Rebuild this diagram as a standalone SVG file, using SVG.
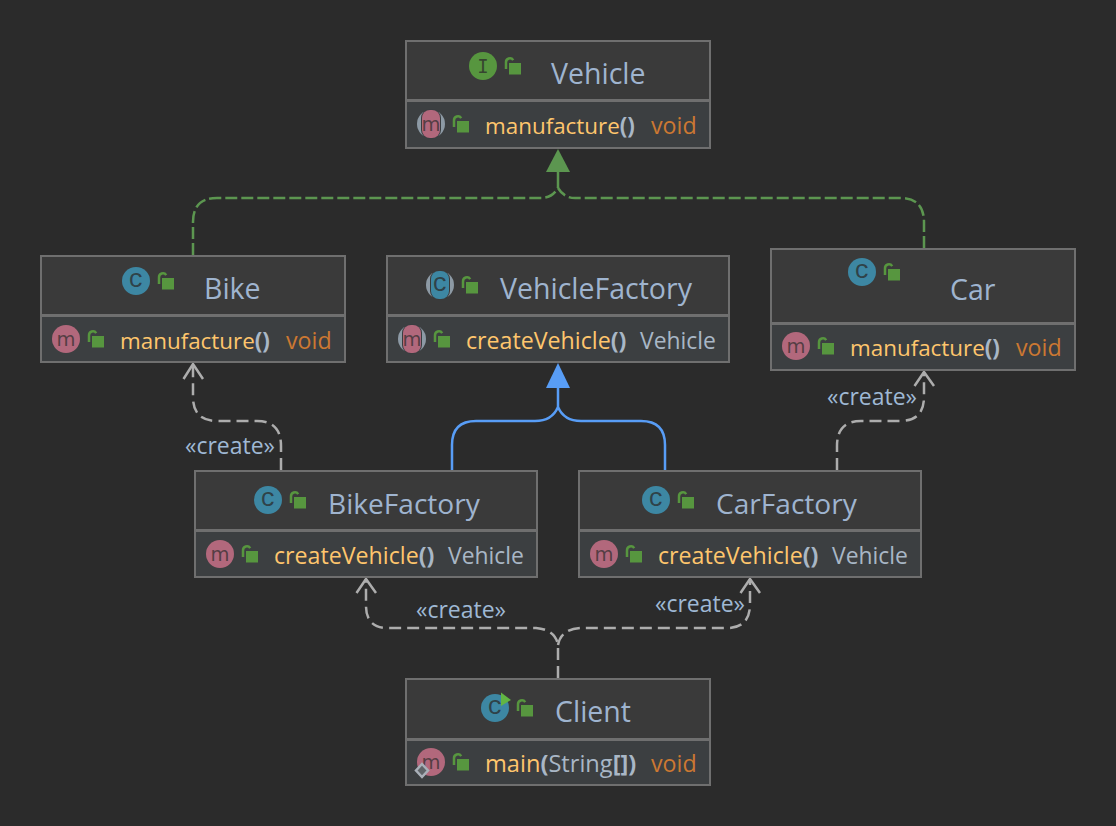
<svg xmlns="http://www.w3.org/2000/svg" width="1116" height="826" viewBox="0 0 1116 826">
<style>
text{font-family:"Open Sans","Noto Sans","Liberation Sans",sans-serif}
.box{fill:#3c3f41;stroke:#6f6f6f;stroke-width:2}
.head{fill:#3a3a3a}
.sep{stroke:#6f6f6f;stroke-width:3;fill:none}
.title{font-size:28.5px;fill:#9fb4cf}
.tf{font-size:28.1px}
.mem{fill:#ffc66d}
.par{fill:#a9b7c6;font-weight:700}
.tx{fill:#a9b7c6}
.m1{font-size:22.4px}
.m2{font-size:23.2px}
.m3{font-size:23.6px}
.typ{font-size:22.9px;fill:#a9b7c6}
.void{font-size:23.2px;fill:#cc7832}
.lab{font-size:23px;fill:#9fb8d4}
text.ic{font-family:"Liberation Mono","DejaVu Sans Mono",monospace;font-size:25px;text-anchor:middle;fill:#2b2b2b;fill-opacity:.75}
text.ii{font-family:"DejaVu Sans Mono",monospace;font-size:19px}
text.im{font-family:"DejaVu Sans","Liberation Sans",sans-serif;font-size:19.5px;fill-opacity:.7}
.dg{fill:none;stroke:#5c9650;stroke-width:2.5;stroke-dasharray:12 4}
.sg{fill:none;stroke:#5c9650;stroke-width:2.5}
.db{fill:none;stroke:#589df6;stroke-width:2.5}
.dw{fill:none;stroke:#adadad;stroke-width:2.5;stroke-dasharray:12 6}
.ar{fill:none;stroke:#adadad;stroke-width:2.5}
</style>
<defs>
<g id="lock"><path d="M-5 2v-6.500a3.900 3.900 0 0 1 7.200 -2.300" fill="none" stroke="#57963f" stroke-width="2.500"/><rect x="-2" y="-4" width="12" height="11.500" fill="#57963f"/></g>
<circle id="cc" r="14" fill="#3d87a3"/>
<circle id="mc" r="14" fill="#b2687c"/>
<g id="absc"><circle r="14" fill="#8d9aa5"/><rect x="-10" y="-15" width="20" height="30" rx="9" fill="#3a3a3a"/><rect x="-9" y="-14" width="18" height="28" rx="8" fill="#3d87a3"/></g>
<g id="absm"><circle r="14" fill="#8d9aa5"/><rect x="-10" y="-15" width="20" height="30" rx="9" fill="#3a3d40"/><rect x="-9" y="-14" width="18" height="28" rx="8" fill="#b2687c"/></g>
</defs>
<rect width="1116" height="826" fill="#2b2b2b"/>

<g id="connectors">
<path class="dg" d="M193 255V222Q193 198 217 198H541Q552 198 558 188"/>
<path class="dg" d="M924 248V222Q924 198 900 198H575Q564 198 558 188"/>
<path class="sg" d="M558 172V188"/>
<polygon points="558,149 546,172 570,172" fill="#5c9650"/>
<path class="db" d="M452 470V445Q452 421 476 421H535Q552 421 558 407V388M665 470V445Q665 421 641 421H581Q564 421 558 407"/>
<polygon points="558,363 546,388 570,388" fill="#589df6"/>
<path class="dw" d="M281 470V446Q281 421 257 421H217Q193 421 193 397V364"/>
<path class="ar" d="M183.500 379L193 364L203 379"/>
<path class="dw" d="M837 470V446Q837 421 861 421H900Q924 421 924 397V372"/>
<path class="ar" d="M914.500 386L924 372L934 386"/>
<path class="dw" d="M558 678V645C556 634 548 629 536 628H388Q366 628 366 606V579"/>
<path class="ar" d="M356.500 593L366 579L376 593"/>
<path class="dw" d="M558 645C560 634 568 629 580 628H727Q749 628 750 606V579"/>
<path class="ar" d="M740.500 593L750 579L760 593"/>
<text class="lab" x="185" y="453.500">«create»</text>
<text class="lab" x="827" y="404.500">«create»</text>
<text class="lab" x="416" y="617.500">«create»</text>
<text class="lab" x="655" y="611.500">«create»</text>
</g>

<g id="vehicle">
<rect class="box" x="406" y="41" width="304" height="107"/><rect class="head" x="407" y="42" width="302" height="58"/>
<path class="sep" d="M407 100.500H709"/>
<circle cx="483" cy="66" r="14" fill="#57963f"/><text class="ic ii" x="483" y="72.500">I</text>
<use href="#lock" x="511" y="67"/>
<text class="title" x="551" y="84">Vehicle</text>
<use href="#absm" x="431" y="124"/><text class="ic im" x="431" y="130.500">m</text>
<use href="#lock" x="459" y="125"/>
<text class="m1" x="485" y="134"><tspan class="mem">manufacture</tspan><tspan class="par">()</tspan></text>
<text class="void" x="651" y="134">void</text>
</g>

<g id="bike">
<rect class="box" x="41" y="256" width="304" height="106"/><rect class="head" x="42" y="257" width="302" height="58"/>
<path class="sep" d="M42 315.500H344"/>
<use href="#cc" x="136" y="281"/><text class="ic" x="136" y="287">c</text>
<use href="#lock" x="164" y="282"/>
<text class="title" x="204" y="299">Bike</text>
<use href="#mc" x="66" y="339"/><text class="ic im" x="66" y="345.500">m</text>
<use href="#lock" x="94" y="340"/>
<text class="m1" x="120" y="349"><tspan class="mem">manufacture</tspan><tspan class="par">()</tspan></text>
<text class="void" x="286" y="349">void</text>
</g>

<g id="vehicle-factory">
<rect class="box" x="387" y="256" width="342" height="106"/><rect class="head" x="388" y="257" width="340" height="58"/>
<path class="sep" d="M388 315.500H728"/>
<use href="#absc" x="440" y="285"/><text class="ic" x="440" y="291">c</text>
<use href="#lock" x="468" y="286"/>
<text class="title" x="500" y="299">VehicleFactory</text>
<use href="#absm" x="412" y="339"/><text class="ic im" x="412" y="345.500">m</text>
<use href="#lock" x="440" y="340"/>
<text class="m2" x="466" y="349"><tspan class="mem">createVehicle</tspan><tspan class="par">()</tspan></text>
<text class="typ" x="640" y="349">Vehicle</text>
</g>

<g id="car">
<rect class="box" x="771" y="249" width="304" height="121"/><rect class="head" x="772" y="250" width="302" height="73"/>
<path class="sep" d="M772 323.500H1074"/>
<use href="#cc" x="862" y="272"/><text class="ic" x="862" y="278">c</text>
<use href="#lock" x="890" y="273"/>
<text class="title" x="950" y="300">Car</text>
<use href="#mc" x="796" y="346"/><text class="ic im" x="796" y="352.500">m</text>
<use href="#lock" x="824" y="347"/>
<text class="m1" x="850" y="356"><tspan class="mem">manufacture</tspan><tspan class="par">()</tspan></text>
<text class="void" x="1016" y="356">void</text>
</g>

<g id="bike-factory">
<rect class="box" x="195" y="471" width="342" height="106"/><rect class="head" x="196" y="472" width="340" height="58"/>
<path class="sep" d="M196 530.500H536"/>
<use href="#cc" x="268" y="500"/><text class="ic" x="268" y="506">c</text>
<use href="#lock" x="296" y="501"/>
<text class="title tf" x="328" y="514">BikeFactory</text>
<use href="#mc" x="220" y="554"/><text class="ic im" x="220" y="560.500">m</text>
<use href="#lock" x="248" y="555"/>
<text class="m2" x="274" y="564"><tspan class="mem">createVehicle</tspan><tspan class="par">()</tspan></text>
<text class="typ" x="448" y="564">Vehicle</text>
</g>

<g id="car-factory">
<rect class="box" x="579" y="471" width="342" height="106"/><rect class="head" x="580" y="472" width="340" height="58"/>
<path class="sep" d="M580 530.500H920"/>
<use href="#cc" x="656" y="500"/><text class="ic" x="656" y="506">c</text>
<use href="#lock" x="684" y="501"/>
<text class="title tf" x="716" y="514">CarFactory</text>
<use href="#mc" x="604" y="554"/><text class="ic im" x="604" y="560.500">m</text>
<use href="#lock" x="632" y="555"/>
<text class="m2" x="658" y="564"><tspan class="mem">createVehicle</tspan><tspan class="par">()</tspan></text>
<text class="typ" x="832" y="564">Vehicle</text>
</g>

<g id="client">
<rect class="box" x="406" y="679" width="304" height="106"/><rect class="head" x="407" y="680" width="302" height="59"/>
<path class="sep" d="M407 739.500H709"/>
<use href="#cc" x="495" y="708"/><text class="ic" x="495" y="714">c</text>
<polygon points="501,692.500 511,700 501,706" fill="#62b543"/>
<use href="#lock" x="523" y="709"/>
<text class="title" x="555" y="722">Client</text>
<use href="#mc" x="431" y="762"/><text class="ic im" x="431" y="768.500">m</text>
<polygon points="422,764 428,770.500 422,777 416,770.500" fill="#5f6468" stroke="#a9b0b8" stroke-width="2.500"/>
<use href="#lock" x="459" y="763"/>
<text class="m3" x="485" y="772"><tspan class="mem">main</tspan><tspan class="par">(</tspan><tspan class="tx">String</tspan><tspan class="par">[])</tspan></text>
<text class="void" x="651" y="772">void</text>
</g>
</svg>
